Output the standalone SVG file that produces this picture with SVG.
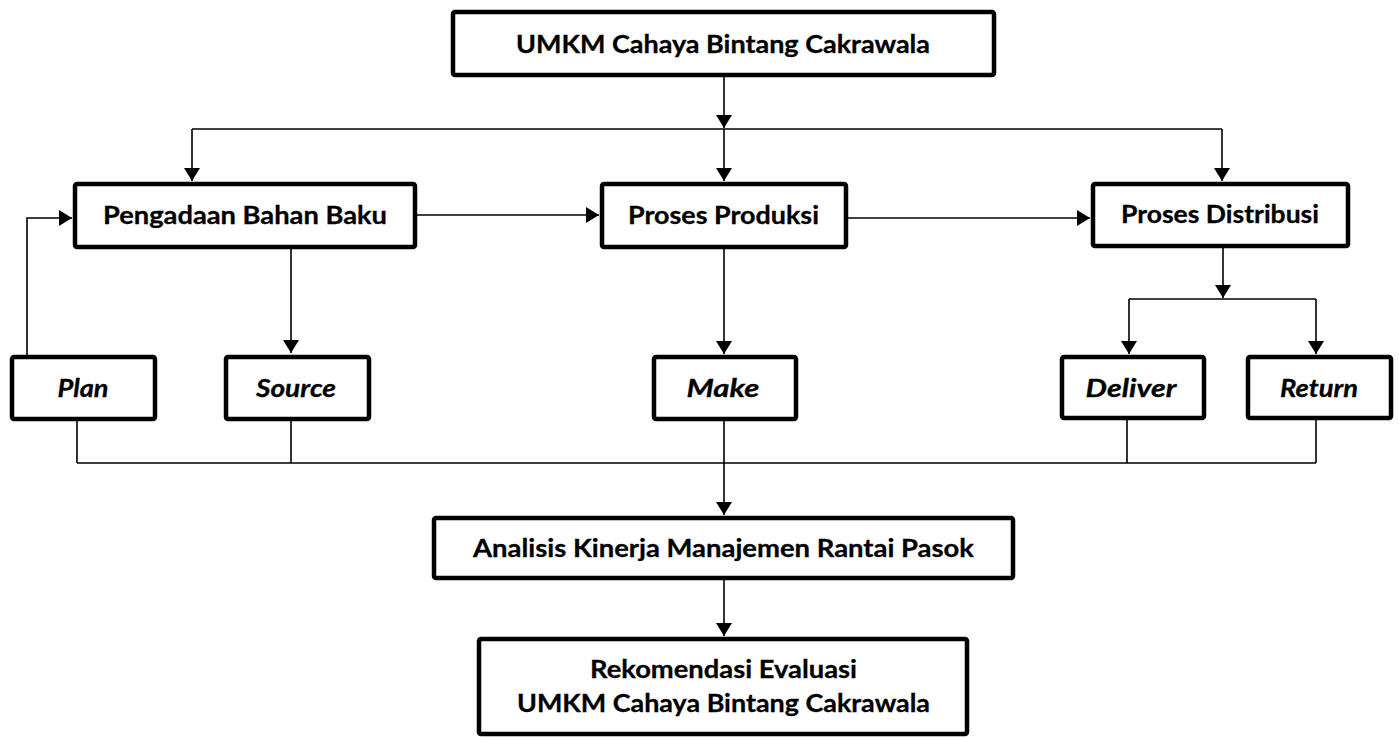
<svg xmlns="http://www.w3.org/2000/svg" width="1399" height="738" viewBox="0 0 1399 738">
<defs>
<marker id="arr" markerUnits="userSpaceOnUse" markerWidth="14" markerHeight="16" refX="13" refY="8" orient="auto">
<path d="M0,0 L13,8 L0,16 z" fill="#000"/>
</marker>
<style>
.box{fill:#fff;stroke:#000;stroke-width:4.5}
.t{font-family:Lato,"Open Sans","Liberation Sans",sans-serif;font-weight:bold;font-size:24.5px;fill:#000;text-anchor:middle;stroke:#000;stroke-width:0.3}
.i{font-style:italic}
.c{fill:none;stroke:#000;stroke-width:1.6}
.a{marker-end:url(#arr)}
</style>
</defs>
<rect width="1399" height="738" fill="#fff"/>
<g id="connectors">
<path class="c a" d="M724,76 V128"/>
<path class="c" d="M192,129 H1222"/>
<path class="c a" d="M192,129 V181"/>
<path class="c a" d="M724,129 V181"/>
<path class="c a" d="M1222,129 V181"/>
<path class="c a" d="M416,215 H599"/>
<path class="c a" d="M847,218 H1090"/>
<path class="c a" d="M27,355 V218 H72"/>
<path class="c a" d="M291,248 V353"/>
<path class="c a" d="M724,248 V354"/>
<path class="c a" d="M1223,247 V298"/>
<path class="c" d="M1129,299 H1316"/>
<path class="c a" d="M1129,299 V354"/>
<path class="c a" d="M1316,299 V354"/>
<path class="c" d="M77,420 V463 M291,420 V463 M724,420 V463 M1127,419 V463 M1316,419 V463 M77,463 H1316"/>
<path class="c a" d="M724,463 V515"/>
<path class="c a" d="M724,579 V636"/>
</g>
<g id="umkm">
<rect class="box" x="453" y="12" width="541" height="63" rx="2"/>
<text class="t" x="723" y="53" textLength="414" lengthAdjust="spacingAndGlyphs">UMKM Cahaya Bintang Cakrawala</text>
</g>
<g id="pengadaan">
<rect class="box" x="75" y="184" width="340" height="63" rx="2"/>
<text class="t" x="245" y="224" textLength="284" lengthAdjust="spacingAndGlyphs">Pengadaan Bahan Baku</text>
</g>
<g id="produksi">
<rect class="box" x="602" y="184" width="244" height="63" rx="2"/>
<text class="t" x="723.5" y="224" textLength="191" lengthAdjust="spacingAndGlyphs">Proses Produksi</text>
</g>
<g id="distribusi">
<rect class="box" x="1093" y="184" width="255" height="62" rx="2"/>
<text class="t" x="1220" y="223" textLength="198" lengthAdjust="spacingAndGlyphs">Proses Distribusi</text>
</g>
<g id="plan">
<rect class="box" x="12" y="357" width="143" height="62" rx="2"/>
<text class="t i" x="83" y="397" textLength="51" lengthAdjust="spacingAndGlyphs">Plan</text>
</g>
<g id="source">
<rect class="box" x="226" y="357" width="143" height="62" rx="2"/>
<text class="t i" x="296" y="397" textLength="80" lengthAdjust="spacingAndGlyphs">Source</text>
</g>
<g id="make">
<rect class="box" x="654" y="357" width="142" height="62" rx="2"/>
<text class="t i" x="723" y="397" textLength="73" lengthAdjust="spacingAndGlyphs">Make</text>
</g>
<g id="deliver">
<rect class="box" x="1062" y="357" width="142" height="61" rx="2"/>
<text class="t i" x="1131" y="397" textLength="91" lengthAdjust="spacingAndGlyphs">Deliver</text>
</g>
<g id="return">
<rect class="box" x="1248" y="357" width="143" height="61" rx="2"/>
<text class="t i" x="1319" y="397" textLength="78" lengthAdjust="spacingAndGlyphs">Return</text>
</g>
<g id="analisis">
<rect class="box" x="434" y="518" width="579" height="60" rx="2"/>
<text class="t" x="723.5" y="557" textLength="501" lengthAdjust="spacingAndGlyphs">Analisis Kinerja Manajemen Rantai Pasok</text>
</g>
<g id="rekomendasi">
<rect class="box" x="479" y="639" width="488" height="95" rx="2"/>
<text class="t" x="723.5" y="678" textLength="267" lengthAdjust="spacingAndGlyphs">Rekomendasi Evaluasi</text>
<text class="t" x="723.5" y="712" textLength="413" lengthAdjust="spacingAndGlyphs">UMKM Cahaya Bintang Cakrawala</text>
</g>
</svg>
